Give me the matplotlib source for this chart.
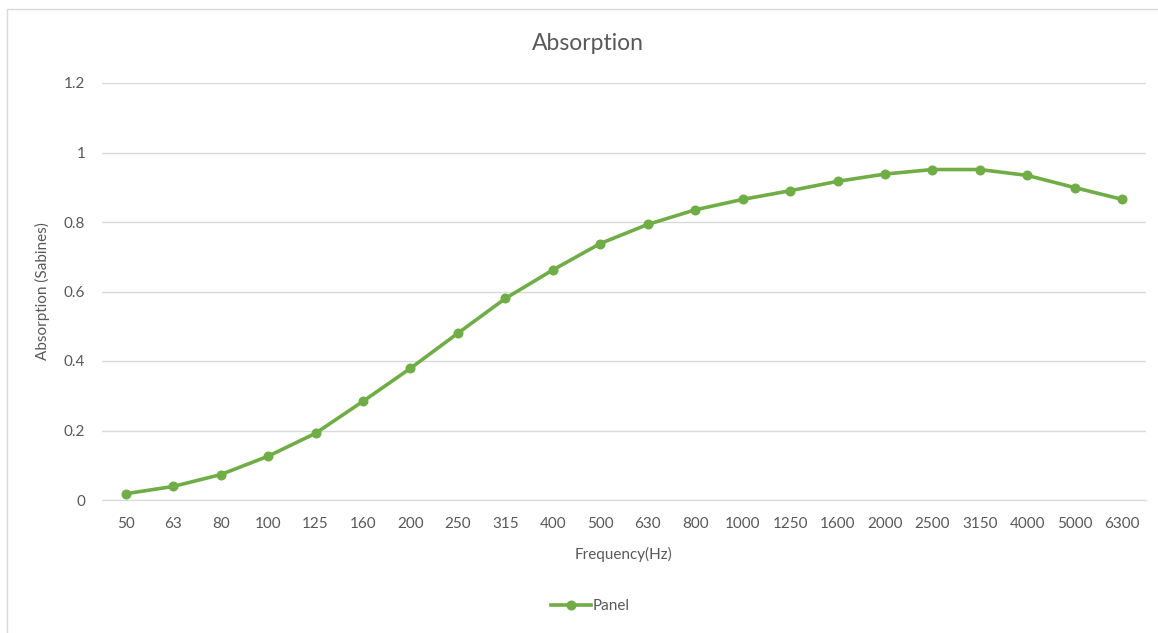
import matplotlib
matplotlib.use("Agg")
import matplotlib.pyplot as plt
from matplotlib.patches import Rectangle

# Datos
frecuencias = ["50", "63", "80", "100", "125", "160", "200", "250", "315", "400",
               "500", "630", "800", "1000", "1250", "1600", "2000", "2500",
               "3150", "4000", "5000", "6300"]
absorcion = [0.018, 0.039, 0.073, 0.126, 0.192, 0.284, 0.379, 0.480, 0.580, 0.662,
             0.738, 0.793, 0.835, 0.865, 0.890, 0.917, 0.938, 0.951,
             0.951, 0.934, 0.899, 0.865]
y_ticks = [0, 0.2, 0.4, 0.6, 0.8, 1, 1.2]
y_tick_labels = ["0", "0.2", "0.4", "0.6", "0.8", "1", "1.2"]

plt.rcParams['font.family'] = ['Lato', 'DejaVu Sans']
gris = "#595959"
verde = "#70AD47"

W, H = 1158, 633
fig = plt.figure(figsize=(W / 100, H / 100), dpi=100)

# Borde del área del gráfico (estilo Excel)
fig.patches.append(Rectangle((7.5 / W, -0.01), 1.1, 1 - 9 / H + 0.01,
                             transform=fig.transFigure, fill=False,
                             edgecolor="#D9D9D9", linewidth=1))

ax = fig.add_axes([102 / W, 1 - 500 / H, (1146 - 102) / W, (500 - 83) / H])
ax.plot(frecuencias, absorcion, color=verde, linewidth=2.6, marker='o',
        markersize=6.2, label="Panel", zorder=3)

ax.set_xlim(-0.5, len(frecuencias) - 0.5)
ax.set_ylim(0, 1.2)
ax.set_yticks(y_ticks)
ax.set_yticklabels(y_tick_labels)
ax.grid(axis='y', color="#D9D9D9", linewidth=1)
ax.set_axisbelow(True)
for s in ["top", "right", "left"]:
    ax.spines[s].set_visible(False)
ax.spines["bottom"].set_color("#D9D9D9")
ax.tick_params(axis='both', length=0, labelsize=11, colors=gris)
ax.tick_params(axis='x', pad=12)
ax.tick_params(axis='y', pad=12)

ax.set_xlabel("Frequency(Hz)", fontsize=11, color=gris, labelpad=12)
ax.set_ylabel("Absorption (Sabines)", fontsize=11, color=gris, labelpad=10)
fig.text(588 / W, 1 - 43 / H, "Absorption", ha='center', va='center',
         fontsize=16.5, color=gris)

fig.legend(loc='center', bbox_to_anchor=(590 / W, 1 - 606 / H), frameon=False,
           fontsize=11, labelcolor=gris, handlelength=2.6, handletextpad=0.1)

fig.savefig("out.png", dpi=100)
